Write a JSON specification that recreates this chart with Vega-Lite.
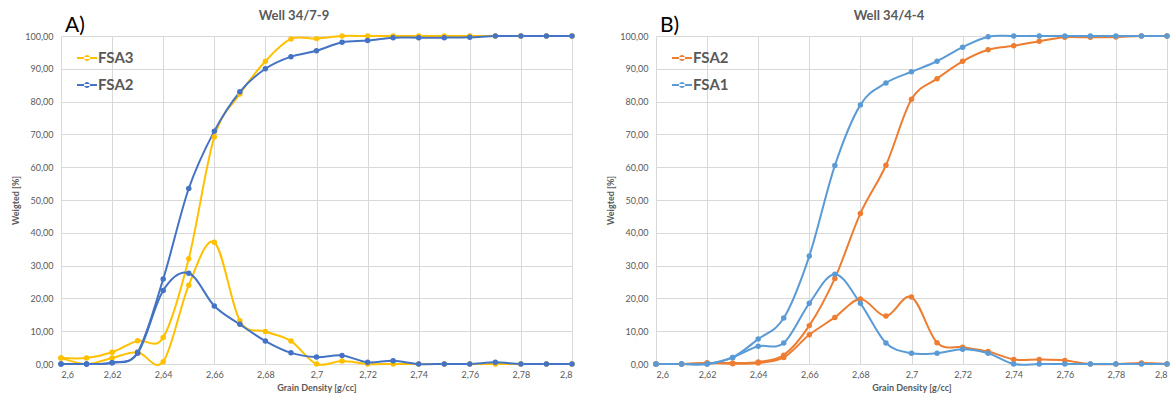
{
  "$schema": "https://vega.github.io/schema/vega-lite/v6.json",
  "background": "white",
  "padding": {"left": 11, "top": 9, "right": 4, "bottom": 4},
  "spacing": 30,
  "resolve": {"scale": {"color": "independent"}, "legend": {"color": "independent"}},
  "config": {
    "font": "Lato",
    "view": {"stroke": null},
    "axis": {
      "labelFont": "Lato", "labelFontSize": 9, "labelColor": "#595959",
      "titleFont": "Lato", "titleFontSize": 9, "titleFontWeight": "bold", "titleColor": "#595959",
      "gridColor": "#d9d9d9", "gridWidth": 1, "domain": false, "ticks": false
    },
    "axisX": {"labelPadding": 6, "titlePadding": 4},
    "axisY": {"labelPadding": 8, "titlePadding": 4},
    "title": {"font": "Lato", "fontSize": 13, "fontWeight": "bold", "color": "#595959", "anchor": "middle", "frame": "bounds", "offset": -8},
    "legend": {
      "orient": "top-left", "offset": 12, "title": null,
      "labelFont": "Lato", "labelFontSize": 15, "labelFontWeight": "bold", "labelColor": "#595959",
      "labelOffset": 1, "rowPadding": 9, "symbolStrokeWidth": 0, "symbolSize": 400, "symbolOffset": 4,
      "symbolType": "M-1,-0.1L1,-0.1L1,0.1L-1,0.1Z M-0.3,0a0.3,0.3 0 1,0 0.6,0a0.3,0.3 0 1,0 -0.6,0Z"
    }
  },
  "datasets": {
    "well_34_7_9": [
      {"s":"FSA3","k":"freq","d":2.60,"v":1.85},{"s":"FSA3","k":"freq","d":2.61,"v":0},{"s":"FSA3","k":"freq","d":2.62,"v":1.85},{"s":"FSA3","k":"freq","d":2.63,"v":3.6},{"s":"FSA3","k":"freq","d":2.64,"v":0.7},{"s":"FSA3","k":"freq","d":2.65,"v":24.0},{"s":"FSA3","k":"freq","d":2.66,"v":37.1},{"s":"FSA3","k":"freq","d":2.67,"v":13.2},{"s":"FSA3","k":"freq","d":2.68,"v":9.9},{"s":"FSA3","k":"freq","d":2.69,"v":7.0},{"s":"FSA3","k":"freq","d":2.70,"v":0},{"s":"FSA3","k":"freq","d":2.71,"v":0.9},{"s":"FSA3","k":"freq","d":2.72,"v":0},{"s":"FSA3","k":"freq","d":2.73,"v":0},{"s":"FSA3","k":"freq","d":2.74,"v":0},{"s":"FSA3","k":"freq","d":2.75,"v":0},{"s":"FSA3","k":"freq","d":2.76,"v":0},{"s":"FSA3","k":"freq","d":2.77,"v":0},{"s":"FSA3","k":"freq","d":2.78,"v":0},{"s":"FSA3","k":"freq","d":2.79,"v":0},{"s":"FSA3","k":"freq","d":2.80,"v":0},
      {"s":"FSA3","k":"cum","d":2.60,"v":1.85},{"s":"FSA3","k":"cum","d":2.61,"v":1.85},{"s":"FSA3","k":"cum","d":2.62,"v":3.6},{"s":"FSA3","k":"cum","d":2.63,"v":7.1},{"s":"FSA3","k":"cum","d":2.64,"v":8.1},{"s":"FSA3","k":"cum","d":2.65,"v":32.1},{"s":"FSA3","k":"cum","d":2.66,"v":69.2},{"s":"FSA3","k":"cum","d":2.67,"v":82.3},{"s":"FSA3","k":"cum","d":2.68,"v":92.3},{"s":"FSA3","k":"cum","d":2.69,"v":99.1},{"s":"FSA3","k":"cum","d":2.70,"v":99.2},{"s":"FSA3","k":"cum","d":2.71,"v":100},{"s":"FSA3","k":"cum","d":2.72,"v":100},{"s":"FSA3","k":"cum","d":2.73,"v":100},{"s":"FSA3","k":"cum","d":2.74,"v":100},{"s":"FSA3","k":"cum","d":2.75,"v":100},{"s":"FSA3","k":"cum","d":2.76,"v":100},{"s":"FSA3","k":"cum","d":2.77,"v":100},{"s":"FSA3","k":"cum","d":2.78,"v":100},{"s":"FSA3","k":"cum","d":2.79,"v":100},{"s":"FSA3","k":"cum","d":2.80,"v":100},
      {"s":"FSA2","k":"freq","d":2.60,"v":0},{"s":"FSA2","k":"freq","d":2.61,"v":0},{"s":"FSA2","k":"freq","d":2.62,"v":0.4},{"s":"FSA2","k":"freq","d":2.63,"v":3.3},{"s":"FSA2","k":"freq","d":2.64,"v":22.4},{"s":"FSA2","k":"freq","d":2.65,"v":27.7},{"s":"FSA2","k":"freq","d":2.66,"v":17.7},{"s":"FSA2","k":"freq","d":2.67,"v":12.1},{"s":"FSA2","k":"freq","d":2.68,"v":7.0},{"s":"FSA2","k":"freq","d":2.69,"v":3.4},{"s":"FSA2","k":"freq","d":2.70,"v":2.1},{"s":"FSA2","k":"freq","d":2.71,"v":2.6},{"s":"FSA2","k":"freq","d":2.72,"v":0.5},{"s":"FSA2","k":"freq","d":2.73,"v":1.0},{"s":"FSA2","k":"freq","d":2.74,"v":0},{"s":"FSA2","k":"freq","d":2.75,"v":0},{"s":"FSA2","k":"freq","d":2.76,"v":0},{"s":"FSA2","k":"freq","d":2.77,"v":0.5},{"s":"FSA2","k":"freq","d":2.78,"v":0},{"s":"FSA2","k":"freq","d":2.79,"v":0},{"s":"FSA2","k":"freq","d":2.80,"v":0},
      {"s":"FSA2","k":"cum","d":2.60,"v":0},{"s":"FSA2","k":"cum","d":2.61,"v":0},{"s":"FSA2","k":"cum","d":2.62,"v":0.4},{"s":"FSA2","k":"cum","d":2.63,"v":3.6},{"s":"FSA2","k":"cum","d":2.64,"v":25.9},{"s":"FSA2","k":"cum","d":2.65,"v":53.5},{"s":"FSA2","k":"cum","d":2.66,"v":71.0},{"s":"FSA2","k":"cum","d":2.67,"v":83.0},{"s":"FSA2","k":"cum","d":2.68,"v":90.0},{"s":"FSA2","k":"cum","d":2.69,"v":93.7},{"s":"FSA2","k":"cum","d":2.70,"v":95.5},{"s":"FSA2","k":"cum","d":2.71,"v":98.1},{"s":"FSA2","k":"cum","d":2.72,"v":98.6},{"s":"FSA2","k":"cum","d":2.73,"v":99.5},{"s":"FSA2","k":"cum","d":2.74,"v":99.5},{"s":"FSA2","k":"cum","d":2.75,"v":99.5},{"s":"FSA2","k":"cum","d":2.76,"v":99.6},{"s":"FSA2","k":"cum","d":2.77,"v":100},{"s":"FSA2","k":"cum","d":2.78,"v":100},{"s":"FSA2","k":"cum","d":2.79,"v":100},{"s":"FSA2","k":"cum","d":2.80,"v":100}
    ],
    "well_34_4_4": [
      {"s":"FSA2","k":"freq","d":2.60,"v":0},{"s":"FSA2","k":"freq","d":2.61,"v":0},{"s":"FSA2","k":"freq","d":2.62,"v":0.3},{"s":"FSA2","k":"freq","d":2.63,"v":0.1},{"s":"FSA2","k":"freq","d":2.64,"v":0.3},{"s":"FSA2","k":"freq","d":2.65,"v":2.0},{"s":"FSA2","k":"freq","d":2.66,"v":8.9},{"s":"FSA2","k":"freq","d":2.67,"v":14.2},{"s":"FSA2","k":"freq","d":2.68,"v":19.8},{"s":"FSA2","k":"freq","d":2.69,"v":14.6},{"s":"FSA2","k":"freq","d":2.70,"v":20.4},{"s":"FSA2","k":"freq","d":2.71,"v":6.5},{"s":"FSA2","k":"freq","d":2.72,"v":5.1},{"s":"FSA2","k":"freq","d":2.73,"v":3.8},{"s":"FSA2","k":"freq","d":2.74,"v":1.4},{"s":"FSA2","k":"freq","d":2.75,"v":1.4},{"s":"FSA2","k":"freq","d":2.76,"v":1.1},{"s":"FSA2","k":"freq","d":2.77,"v":0},{"s":"FSA2","k":"freq","d":2.78,"v":0},{"s":"FSA2","k":"freq","d":2.79,"v":0.3},{"s":"FSA2","k":"freq","d":2.80,"v":0},
      {"s":"FSA2","k":"cum","d":2.60,"v":0},{"s":"FSA2","k":"cum","d":2.61,"v":0},{"s":"FSA2","k":"cum","d":2.62,"v":0.3},{"s":"FSA2","k":"cum","d":2.63,"v":0.3},{"s":"FSA2","k":"cum","d":2.64,"v":0.6},{"s":"FSA2","k":"cum","d":2.65,"v":2.7},{"s":"FSA2","k":"cum","d":2.66,"v":11.7},{"s":"FSA2","k":"cum","d":2.67,"v":26.1},{"s":"FSA2","k":"cum","d":2.68,"v":45.9},{"s":"FSA2","k":"cum","d":2.69,"v":60.6},{"s":"FSA2","k":"cum","d":2.70,"v":80.7},{"s":"FSA2","k":"cum","d":2.71,"v":87.0},{"s":"FSA2","k":"cum","d":2.72,"v":92.3},{"s":"FSA2","k":"cum","d":2.73,"v":95.8},{"s":"FSA2","k":"cum","d":2.74,"v":97.0},{"s":"FSA2","k":"cum","d":2.75,"v":98.4},{"s":"FSA2","k":"cum","d":2.76,"v":99.6},{"s":"FSA2","k":"cum","d":2.77,"v":99.6},{"s":"FSA2","k":"cum","d":2.78,"v":99.7},{"s":"FSA2","k":"cum","d":2.79,"v":100},{"s":"FSA2","k":"cum","d":2.80,"v":100},
      {"s":"FSA1","k":"freq","d":2.60,"v":0},{"s":"FSA1","k":"freq","d":2.61,"v":0},{"s":"FSA1","k":"freq","d":2.62,"v":0},{"s":"FSA1","k":"freq","d":2.63,"v":2.0},{"s":"FSA1","k":"freq","d":2.64,"v":5.4},{"s":"FSA1","k":"freq","d":2.65,"v":6.4},{"s":"FSA1","k":"freq","d":2.66,"v":18.5},{"s":"FSA1","k":"freq","d":2.67,"v":27.4},{"s":"FSA1","k":"freq","d":2.68,"v":18.5},{"s":"FSA1","k":"freq","d":2.69,"v":6.4},{"s":"FSA1","k":"freq","d":2.70,"v":3.3},{"s":"FSA1","k":"freq","d":2.71,"v":3.3},{"s":"FSA1","k":"freq","d":2.72,"v":4.5},{"s":"FSA1","k":"freq","d":2.73,"v":3.3},{"s":"FSA1","k":"freq","d":2.74,"v":0},{"s":"FSA1","k":"freq","d":2.75,"v":0},{"s":"FSA1","k":"freq","d":2.76,"v":0},{"s":"FSA1","k":"freq","d":2.77,"v":0},{"s":"FSA1","k":"freq","d":2.78,"v":0},{"s":"FSA1","k":"freq","d":2.79,"v":0},{"s":"FSA1","k":"freq","d":2.80,"v":0},
      {"s":"FSA1","k":"cum","d":2.60,"v":0},{"s":"FSA1","k":"cum","d":2.61,"v":0},{"s":"FSA1","k":"cum","d":2.62,"v":0},{"s":"FSA1","k":"cum","d":2.63,"v":2.0},{"s":"FSA1","k":"cum","d":2.64,"v":7.6},{"s":"FSA1","k":"cum","d":2.65,"v":14.0},{"s":"FSA1","k":"cum","d":2.66,"v":32.9},{"s":"FSA1","k":"cum","d":2.67,"v":60.5},{"s":"FSA1","k":"cum","d":2.68,"v":79.0},{"s":"FSA1","k":"cum","d":2.69,"v":85.7},{"s":"FSA1","k":"cum","d":2.70,"v":89.1},{"s":"FSA1","k":"cum","d":2.71,"v":92.3},{"s":"FSA1","k":"cum","d":2.72,"v":96.6},{"s":"FSA1","k":"cum","d":2.73,"v":99.8},{"s":"FSA1","k":"cum","d":2.74,"v":100},{"s":"FSA1","k":"cum","d":2.75,"v":100},{"s":"FSA1","k":"cum","d":2.76,"v":100},{"s":"FSA1","k":"cum","d":2.77,"v":100},{"s":"FSA1","k":"cum","d":2.78,"v":100},{"s":"FSA1","k":"cum","d":2.79,"v":100},{"s":"FSA1","k":"cum","d":2.80,"v":100}
    ]
  },
  "hconcat": [
    {
      "width": 511, "height": 328,
      "title": "Well 34/7-9",
      "layer": [
        {
          "data": {"name": "well_34_7_9"},
          "encoding": {
            "x": {"field": "d", "type": "quantitative", "scale": {"domain": [2.6, 2.8], "nice": false, "zero": false},
                  "axis": {"title": "Grain Density [g/cc]", "values": [2.6,2.62,2.64,2.66,2.68,2.7,2.72,2.74,2.76,2.78,2.8], "labelExpr": "replace(format(datum.value, '.2~f'), '.', ',')"}},
            "y": {"field": "v", "type": "quantitative", "scale": {"domain": [0, 100], "nice": false},
                  "axis": {"title": "Weigted [%]", "values": [0,10,20,30,40,50,60,70,80,90,100], "labelExpr": "replace(format(datum.value, '.2f'), '.', ',')"}},
            "color": {"field": "s", "type": "nominal", "scale": {"domain": ["FSA3", "FSA2"], "range": ["#FFC000", "#4472C4"]}}
          },
          "layer": [
            {"mark": {"type": "line", "interpolate": "cardinal", "strokeWidth": 2}, "encoding": {"detail": {"field": "k"}}},
            {"mark": {"type": "point", "filled": true, "size": 30, "opacity": 1}}
          ]
        },
        {
          "data": {"values": [{"t": "A)"}]},
          "mark": {"type": "text", "align": "left", "baseline": "alphabetic", "dx": 4, "fontSize": 21, "font": "Lato", "color": "#000000"},
          "encoding": {
            "x": {"datum": 2.6, "type": "quantitative",
                  "axis": {"title": "Grain Density [g/cc]", "values": [2.6,2.62,2.64,2.66,2.68,2.7,2.72,2.74,2.76,2.78,2.8], "labelExpr": "replace(format(datum.value, '.2~f'), '.', ',')"}},
            "y": {"datum": 101.3, "type": "quantitative",
                  "axis": {"title": "Weigted [%]", "values": [0,10,20,30,40,50,60,70,80,90,100], "labelExpr": "replace(format(datum.value, '.2f'), '.', ',')"}},
            "text": {"field": "t"}
          }
        }
      ]
    },
    {
      "width": 511, "height": 328,
      "title": "Well 34/4-4",
      "layer": [
        {
          "data": {"name": "well_34_4_4"},
          "encoding": {
            "x": {"field": "d", "type": "quantitative", "scale": {"domain": [2.6, 2.8], "nice": false, "zero": false},
                  "axis": {"title": "Grain Density [g/cc]", "values": [2.6,2.62,2.64,2.66,2.68,2.7,2.72,2.74,2.76,2.78,2.8], "labelExpr": "replace(format(datum.value, '.2~f'), '.', ',')"}},
            "y": {"field": "v", "type": "quantitative", "scale": {"domain": [0, 100], "nice": false},
                  "axis": {"title": "Weigted [%]", "values": [0,10,20,30,40,50,60,70,80,90,100], "labelExpr": "replace(format(datum.value, '.2f'), '.', ',')"}},
            "color": {"field": "s", "type": "nominal", "scale": {"domain": ["FSA2", "FSA1"], "range": ["#ED7D31", "#5B9BD5"]}}
          },
          "layer": [
            {"mark": {"type": "line", "interpolate": "cardinal", "strokeWidth": 2}, "encoding": {"detail": {"field": "k"}}},
            {"mark": {"type": "point", "filled": true, "size": 30, "opacity": 1}}
          ]
        },
        {
          "data": {"values": [{"t": "B)"}]},
          "mark": {"type": "text", "align": "left", "baseline": "alphabetic", "dx": 4, "fontSize": 21, "font": "Lato", "color": "#000000"},
          "encoding": {
            "x": {"datum": 2.6, "type": "quantitative",
                  "axis": {"title": "Grain Density [g/cc]", "values": [2.6,2.62,2.64,2.66,2.68,2.7,2.72,2.74,2.76,2.78,2.8], "labelExpr": "replace(format(datum.value, '.2~f'), '.', ',')"}},
            "y": {"datum": 101.3, "type": "quantitative",
                  "axis": {"title": "Weigted [%]", "values": [0,10,20,30,40,50,60,70,80,90,100], "labelExpr": "replace(format(datum.value, '.2f'), '.', ',')"}},
            "text": {"field": "t"}
          }
        }
      ]
    }
  ]
}
